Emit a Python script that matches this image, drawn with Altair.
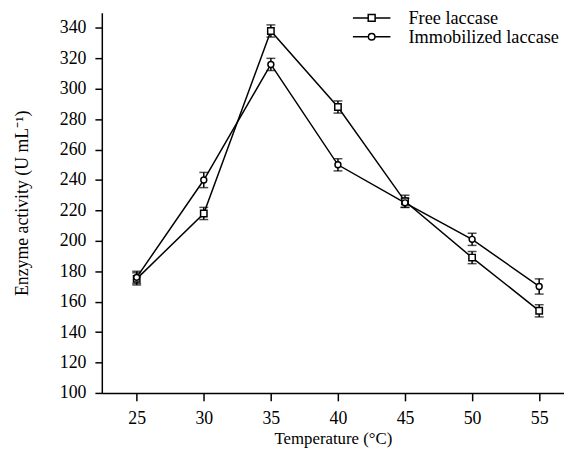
import altair as alt
import pandas as pd

temps = [25, 30, 35, 40, 45, 50, 55]
free = [175, 218, 338, 288, 226, 189, 154]
free_err = [4, 4, 4, 4, 4, 4, 4]
immob = [176, 240, 316, 250, 225, 201, 170]
immob_err = [4, 5, 4, 4, 3, 4, 5]
series_names = ["Free laccase", "Immobilized laccase"]
y_ticks = [100, 120, 140, 160, 180, 200, 220, 240, 260, 280, 300, 320, 340]
x_ticks = [25, 30, 35, 40, 45, 50, 55]

rows = []
for name, vals, errs in [(series_names[0], free, free_err), (series_names[1], immob, immob_err)]:
    for t, v, e in zip(temps, vals, errs):
        rows.append({"temp": t, "val": v, "lo": v - e, "hi": v + e, "series": name, "series_leg": name})
df = pd.DataFrame(rows)

FONT = "Liberation Serif"
FS = 18
xs = alt.Scale(domain=[22.4, 56.85], nice=False, zero=False)
ys = alt.Scale(domain=[100, 350], nice=False, zero=False)

x_axis = alt.Axis(values=x_ticks, title="Temperature (°C)", grid=False, tickSize=8,
                  labelPadding=9, titlePadding=3, titleFontSize=17, format="d", labelOverlap=False)
y_axis = alt.Axis(values=y_ticks, title="Enzyme activity (U mL⁻¹)", grid=False, tickSize=7,
                  labelPadding=9, titlePadding=28, format="d", labelOverlap=False)


def X():
    return alt.X("temp:Q", scale=xs, axis=x_axis)


def Y(field):
    return alt.Y(field, scale=ys, axis=y_axis)


base = alt.Chart(df)

lines = base.mark_line(color="black", strokeWidth=1.5).encode(
    x=X(), y=Y("val:Q"), detail="series:N", order="temp:Q")

err = base.mark_rule(color="black", strokeWidth=1.5).encode(
    x=X(), y=Y("lo:Q"), y2="hi:Q")
cap_lo = base.mark_tick(color="black", orient="horizontal", size=9, thickness=1.5).encode(
    x=X(), y=Y("lo:Q"))
cap_hi = base.mark_tick(color="black", orient="horizontal", size=9, thickness=1.5).encode(
    x=X(), y=Y("hi:Q"))

pts = base.mark_point(filled=False, stroke="black", fill="white", strokeWidth=1.5, opacity=1).encode(
    x=X(), y=Y("val:Q"),
    shape=alt.Shape("series:N", scale=alt.Scale(domain=series_names, range=["square", "circle"]), legend=None),
    size=alt.Size("series:N", scale=alt.Scale(domain=series_names, range=[42, 36]), legend=None),
)

sq_path = "M-3.8,0H-0.7M0.7,0H3.8M-0.7,-0.7H0.7V0.7H-0.7Z"
ci_path = "M-3.8,0H-0.66M0.66,0H3.8M-0.66,0A0.66,0.66,0,1,1,0.66,0A0.66,0.66,0,1,1,-0.66,0Z"

leg = base.mark_point(filled=False).encode(
    x=X(), y=Y("val:Q"),
    opacity=alt.value(0),
    shape=alt.Shape("series_leg:N", scale=alt.Scale(domain=series_names, range=[sq_path, ci_path]),
                    legend=alt.Legend(title=None, orient="none", legendX=264, legendY=-4,
                                      symbolSize=100, symbolStrokeColor="black", symbolFillColor="white",
                                      symbolStrokeWidth=1.5, symbolOpacity=1, labelOffset=28,
                                      labelFont=FONT, labelFontSize=18.5, labelColor="black",
                                      rowPadding=0, padding=0)),
)

chart = alt.layer(lines, err, cap_lo, cap_hi, pts, leg).resolve_scale(shape="independent", size="independent").properties(
    width=468, height=385,
    background="white",
    autosize=alt.AutoSizeParams(type="none"),
    padding={"left": 95, "top": 2, "right": 0, "bottom": 55},
).configure_axis(
    labelFont=FONT, titleFont=FONT, labelFontSize=FS, titleFontSize=FS,
    labelColor="black", titleColor="black", titleFontWeight="normal",
    domainColor="black", tickColor="black", domainWidth=1.5, tickWidth=1.5,
).configure_view(stroke=None)

chart.save("out.html", embed_options={"renderer": "svg", "actions": False})
